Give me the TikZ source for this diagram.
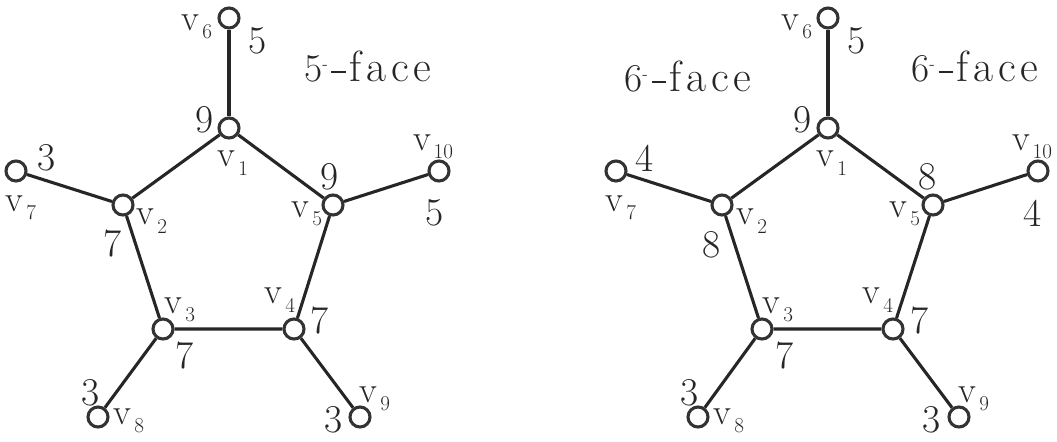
\documentclass[tikz,border=0pt]{standalone}
\usepackage{fontspec}
\setmainfont{Latin Modern Roman}
\usetikzlibrary{positioning}
\newcommand{\vx}[1]{v\kern2pt\raisebox{-6pt}{\fontsize{15}{15}\selectfont #1}}
\newcommand{\facelab}[1]{#1\textsuperscript{\fontsize{12}{12}\selectfont -}\kern2pt\rule[6.5pt]{10pt}{1.1pt}\kern3pt{\fontsize{31}{31}\selectfont\addfontfeature{LetterSpace=11}face}}

\begin{document}
\begin{tikzpicture}[
    x=0.025cm, y=-0.025cm,
    vertex/.style={circle, draw=black!80, line width=2.2pt, fill=white, minimum size=0.5cm, inner sep=0pt},
    edge/.style={line width=2.2pt, black!85},
    lab/.style={font=\fontsize{28}{28}\selectfont, inner sep=0pt, text=black!85},
    vlab/.style={font=\fontsize{26}{26}\selectfont, inner sep=0pt, text=black!85}
]
\useasboundingbox (0,0) rectangle (1057,441);

% Left graph: 5^- face
\node[vertex] (a1) at (229,128) {};
\node[vertex] (a2) at (123,205) {};
\node[vertex] (a3) at (163,329) {};
\node[vertex] (a4) at (294,329) {};
\node[vertex] (a5) at (333,205) {};
\node[vertex] (a6) at (229,18) {};
\node[vertex] (a7) at (16,171) {};
\node[vertex] (a8) at (98,417) {};
\node[vertex] (a9) at (360,417) {};
\node[vertex] (a10) at (439,171) {};

\draw[edge] (a1) -- (a2) -- (a3) -- (a4) -- (a5) -- (a1);
\draw[edge] (a1) -- (a6);
\draw[edge] (a2) -- (a7);
\draw[edge] (a3) -- (a8);
\draw[edge] (a4) -- (a9);
\draw[edge] (a5) -- (a10);

\node[vlab] (a6v) at (197,27) {\vx{6}};
\node[lab] (a6d) at (258,41) {5};
\node[lab] (aface) at (368,67) {\facelab{5}};
\node[lab] (a1d) at (205,120) {9};
\node[vlab] (a1v) at (233,163) {\vx{1}};
\node[lab] (a7d) at (47,158) {3};
\node[vlab] (a7v) at (21,208) {\vx{7}};
\node[vlab] (a2v) at (152,221) {\vx{2}};
\node[lab] (a2d) at (113,243) {7};
\node[lab] (a5d) at (330,177) {9};
\node[vlab] (a5v) at (307,214) {\vx{5}};
\node[vlab] (a10v) at (433,147) {\vx{10}};
\node[lab] (a10d) at (435,213) {5};
\node[vlab] (a3v) at (180,310) {\vx{3}};
\node[vlab] (a4v) at (280,300) {\vx{4}};
\node[lab] (a4d) at (320,320) {7};
\node[lab] (a3d) at (185,355) {7};
\node[lab] (a8d) at (91,393) {3};
\node[vlab] (a8v) at (129,421) {\vx{8}};
\node[vlab] (a9v) at (375,399) {\vx{9}};
\node[lab] (a9d) at (334,420) {3};

% Right graph: 6^- faces
\node[vertex] (b1) at (828,128) {};
\node[vertex] (b2) at (722,205) {};
\node[vertex] (b3) at (762,329) {};
\node[vertex] (b4) at (893,329) {};
\node[vertex] (b5) at (933,205) {};
\node[vertex] (b6) at (828,18) {};
\node[vertex] (b7) at (616,171) {};
\node[vertex] (b8) at (698,417) {};
\node[vertex] (b9) at (959,417) {};
\node[vertex] (b10) at (1038,171) {};

\draw[edge] (b1) -- (b2) -- (b3) -- (b4) -- (b5) -- (b1);
\draw[edge] (b1) -- (b6);
\draw[edge] (b2) -- (b7);
\draw[edge] (b3) -- (b8);
\draw[edge] (b4) -- (b9);
\draw[edge] (b5) -- (b10);

\node[vlab] (b6v) at (797,27) {\vx{6}};
\node[lab] (b6d) at (857,41) {5};
\node[lab] (bfaceL) at (688,77) {\facelab{6}};
\node[lab] (bfaceR) at (975,67) {\facelab{6}};
\node[lab] (b1d) at (803,120) {9};
\node[vlab] (b1v) at (832,163) {\vx{1}};
\node[lab] (b7d) at (645,158) {4};
\node[vlab] (b7v) at (621,208) {\vx{7}};
\node[vlab] (b2v) at (752,221) {\vx{2}};
\node[lab] (b2d) at (712,245) {8};
\node[lab] (b5d) at (928,177) {8};
\node[vlab] (b5v) at (905,214) {\vx{5}};
\node[vlab] (b10v) at (1032,147) {\vx{10}};
\node[lab] (b10d) at (1033,213) {4};
\node[vlab] (b3v) at (778,310) {\vx{3}};
\node[vlab] (b4v) at (878,300) {\vx{4}};
\node[lab] (b4d) at (920,320) {7};
\node[lab] (b3d) at (785,355) {7};
\node[lab] (b8d) at (690,393) {3};
\node[vlab] (b8v) at (729,421) {\vx{8}};
\node[vlab] (b9v) at (974,399) {\vx{9}};
\node[lab] (b9d) at (932,420) {3};

\end{tikzpicture}
\end{document}
